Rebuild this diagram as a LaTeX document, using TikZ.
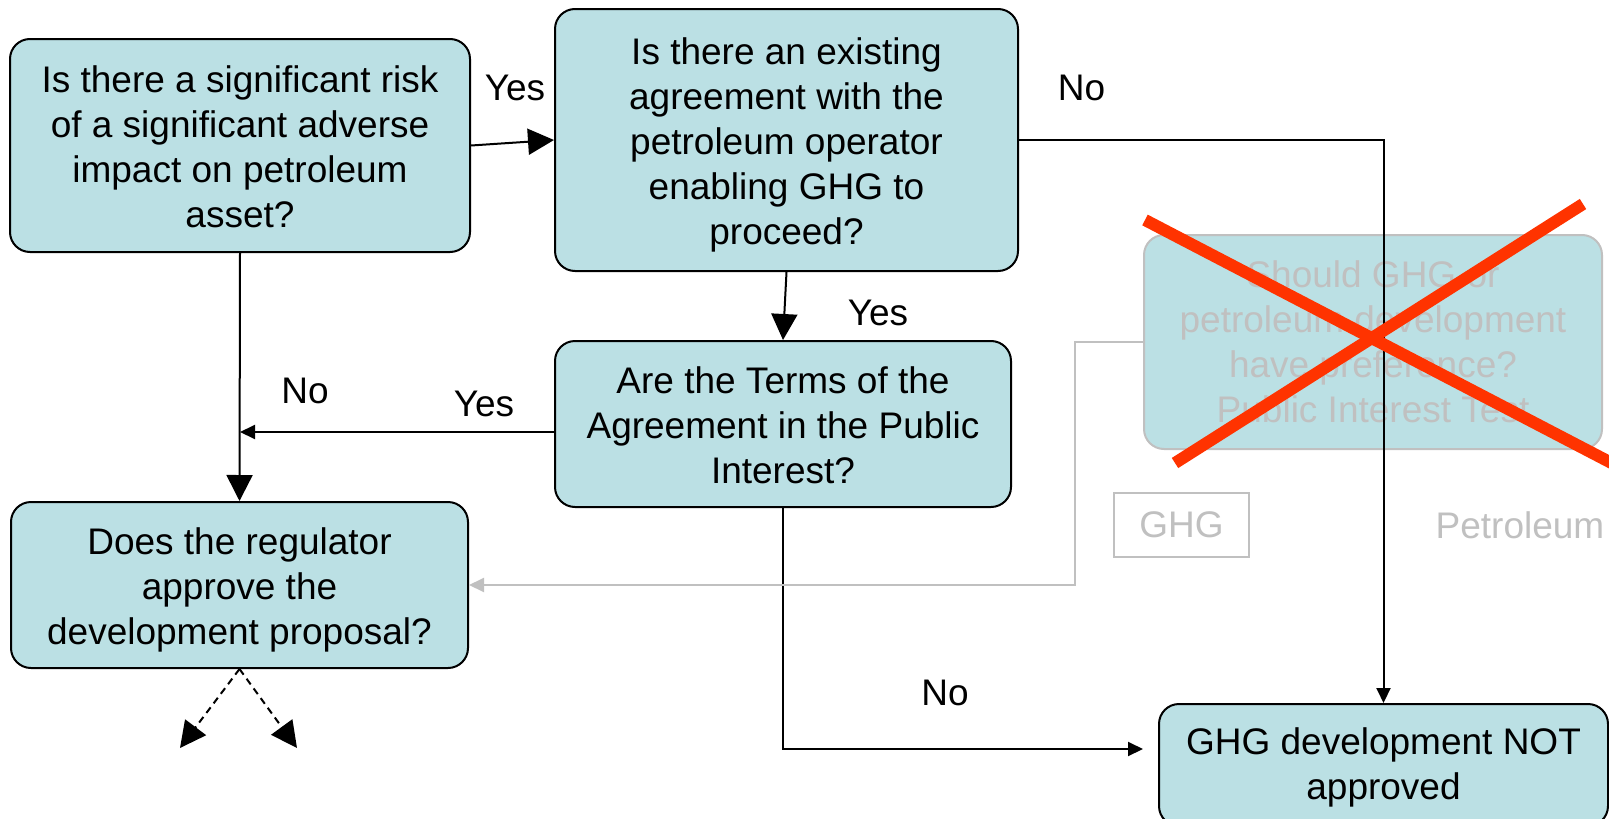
\documentclass[tikz,border=0pt]{standalone}
\usepackage{fontspec}
\setmainfont{Liberation Sans}
\usetikzlibrary{arrows.meta}
\definecolor{boxfill}{RGB}{187,224,228}
\definecolor{fadegray}{RGB}{192,192,192}
\definecolor{crossred}{RGB}{255,51,0}
\tikzset{
  qbox/.style={draw=black, line width=2pt, fill=boxfill, rounded corners=20pt,
    minimum width=#1, inner sep=0pt, align=center,
    font=\fontsize{37}{45}\selectfont},
  fadebox/.style={draw=fadegray, line width=2pt, fill=boxfill, rounded corners=20pt,
    inner sep=0pt, align=center, text=fadegray,
    font=\fontsize{37}{45}\selectfont},
  lbl/.style={inner sep=0pt, font=\fontsize{37}{45}\selectfont},
  conn/.style={line width=2pt, draw=black},
  bigarrow/.style={-{Triangle[length=26pt,width=26pt]}},
  smallarrow/.style={-{Triangle[length=15pt,width=14pt]}},
  grayconn/.style={line width=2pt, draw=fadegray, -{Triangle[length=15pt,width=14pt]}},
  cross/.style={line width=12pt, draw=crossred},
}
\begin{document}
\begin{tikzpicture}[x=1pt,y=-1pt]
\clip (0,0) rectangle (1609,819);
\fill[white] (0,0) rectangle (1609,819);

% boxes
\node[qbox=460pt, minimum height=213pt] (A) at (240,145.5)
  {\rule{0pt}{30pt}Is there a significant risk\\of a significant adverse\\impact on petroleum\\asset?};
\node[qbox=463pt, minimum height=262pt] (B) at (786.5,140)
  {\rule{0pt}{36pt}Is there an existing\\agreement with the\\petroleum operator\\enabling GHG to\\proceed?};
\node[qbox=456pt, minimum height=166pt] (C) at (783,424)
  {\rule{0pt}{30pt}Are the Terms of the\\Agreement in the Public\\Interest?};
\node[qbox=457pt, minimum height=166pt] (D) at (239.5,585)
  {\rule{0pt}{36pt}Does the regulator\\approve the\\development proposal?};
\node[qbox=449pt, minimum height=122pt] (E) at (1383.5,765)
  {\rule{0pt}{32pt}GHG development NOT\\approved};
\node[fadebox, minimum width=458pt, minimum height=214pt] (F) at (1373,342)
  {Should GHG or\\petroleum development\\have preference?\\Public Interest Test};
\node[draw=fadegray, line width=2pt, text=fadegray, minimum width=135pt, minimum height=64pt,
  inner sep=0pt, font=\fontsize{37}{45}\selectfont] (G) at (1181.5,525) {GHG};
\node[lbl, text=fadegray] (P) at (1520,525) {Petroleum};

% labels
\node[lbl] (y1) at (515,88) {Yes};
\node[lbl] (n1) at (1081.5,88) {No};
\node[lbl] (y2) at (878,313) {Yes};
\node[lbl] (n2) at (305,391) {No};
\node[lbl] (y3) at (484,404) {Yes};
\node[lbl] (n3) at (945,693) {No};

% coordinates
\coordinate (Ein) at (1143,749);
\coordinate (g1) at (1075,342);
\coordinate (d1) at (180,748);
\coordinate (d2) at (297,748);
\coordinate (x1a) at (1145,220);
\coordinate (x1b) at (1625,470);
\coordinate (x2a) at (1175,463);
\coordinate (x2b) at (1583,204);
\coordinate (Cw) at ([yshift=-8pt]C.west);

% connectors
\draw[conn, bigarrow] (A.east) -- (B.west);
\draw[conn, bigarrow] (B.south) -- (C.north);
\draw[conn, bigarrow] (A.south) -- (D.north);
\draw[conn, smallarrow] (Cw) -- (A.south |- Cw);
\draw[conn, smallarrow] (B.east) -| (E.north);
\draw[conn, smallarrow] (C.south) |- (Ein);
\draw[grayconn] (F.west) -- (g1) |- (D.east);
\draw[conn, bigarrow, dash pattern=on 7pt off 5pt] (D.south) -- (d1);
\draw[conn, bigarrow, dash pattern=on 7pt off 5pt] (D.south) -- (d2);

% red cross
\draw[cross] (x1a) -- (x1b);
\draw[cross] (x2a) -- (x2b);
\end{tikzpicture}
\end{document}
